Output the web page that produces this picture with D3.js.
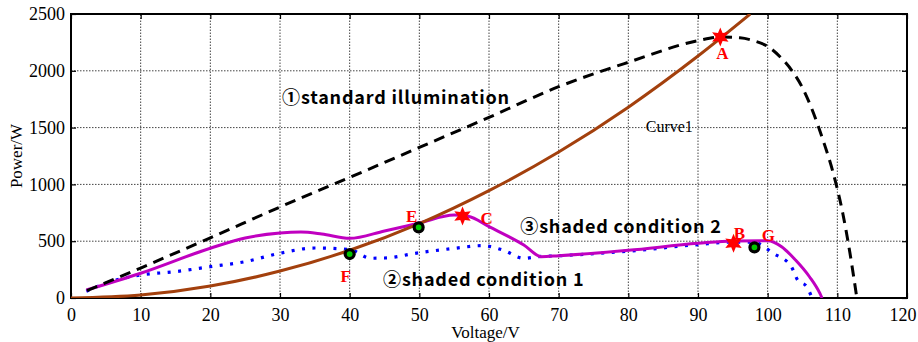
<!DOCTYPE html>
<meta charset="utf-8">
<script src="https://d3js.org/d3.v7.min.js"></script>
<style>
  body { margin: 0; background: #fff; }
</style>
<body>
<script>

// axis ticks
var xTicks = [0, 10, 20, 30, 40, 50, 60, 70, 80, 90, 100, 110, 120];
var yTicks = [0, 500, 1000, 1500, 2000, 2500];

// curve 1 (load line), [voltage, power]
var curve1 = [[0, 0], [10, 26], [20, 105], [30, 237], [40, 420], [50, 655], [60, 945],
  [70, 1285], [80, 1680], [90, 2130], [97.5, 2500]];

// 1 standard illumination
var standard = [[2.3, 65], [10, 264], [20, 530], [30, 801], [40, 1062], [50, 1325], [60, 1590],
  [70, 1860], [80, 2075], [90, 2265], [93.2, 2297], [96, 2290], [98, 2265], [100, 2215],
  [102, 2110], [103.5, 2000], [105, 1850], [106.5, 1640], [108, 1380], [109.5, 1080],
  [110.8, 740], [111.8, 400], [112.8, 0]];

// 2 shaded condition 1
var shaded1 = [[2.2, 60], [5, 130], [10, 202], [15, 232], [20, 276], [25, 320], [30, 394],
  [35, 440], [40, 427], [43, 350], [45, 352], [50, 399], [55, 437], [59, 461], [62, 422],
  [65, 349], [67, 364], [70, 372], [80, 412], [90, 470], [95, 492], [98, 490], [100.8, 393],
  [103.4, 276], [104.3, 158], [105.6, 100], [106.2, 26]];

// 3 shaded condition 2
var shaded2 = [[2.2, 70], [10, 218], [20, 438], [25, 528], [30, 572], [33, 580], [36, 563],
  [40, 525], [45, 590], [50, 660], [55, 730], [57, 720], [60, 628], [65, 466], [67.5, 364],
  [70, 372], [80, 420], [90, 481], [95, 502], [100, 504], [102, 452], [104, 334], [106, 187],
  [107.5, 40], [107.8, 0]];

// marked operating points
var stars = [{ name: "A", v: 93.2, p: 2297, dx: 2, dy: 22 },
  { name: "C", v: 56.2, p: 722, dx: 24, dy: 8 },
  { name: "B", v: 95.1, p: 481, dx: 6, dy: -4 }];
var dots = [{ name: "E", v: 49.9, p: 622, dx: -7, dy: -5 },
  { name: "F", v: 40, p: 387, dx: -4, dy: 28 },
  { name: "G", v: 98.1, p: 446, dx: 14, dy: -6 }];

var width = 918, height = 342;
var margin = { top: 14, right: 11, bottom: 44, left: 71 };

var svg = d3.select("body").append("svg")
  .attr("width", width)
  .attr("height", height);

var x = d3.scaleLinear().domain([0, 120]).range([margin.left, width - margin.right]);
var y = d3.scaleLinear().domain([0, 2500]).range([height - margin.bottom, margin.top]);

// grid
var grid = svg.append("g").attr("stroke", "#444").attr("stroke-width", 1)
  .attr("stroke-dasharray", "1.5,1.5");
grid.selectAll(".gx").data(xTicks.slice(1, -1)).enter().append("line")
  .attr("x1", function(d) { return x(d); }).attr("x2", function(d) { return x(d); })
  .attr("y1", y(0)).attr("y2", y(2500));
grid.selectAll(".gy").data(yTicks.slice(1, -1)).enter().append("line")
  .attr("y1", function(d) { return y(d); }).attr("y2", function(d) { return y(d); })
  .attr("x1", x(0)).attr("x2", x(120));

// axes with inward ticks
svg.append("g").attr("transform", "translate(0," + y(0) + ")")
  .call(d3.axisBottom(x).tickValues(xTicks).tickFormat(d3.format("d"))
    .tickSizeInner(-5).tickSizeOuter(0).tickPadding(10))
  .call(function(g) { g.select(".domain").remove(); })
  .call(function(g) {
    // keep the last label inside the window
    g.selectAll(".tick text").filter(function(d) { return d === 120; })
      .attr("text-anchor", "end").attr("dx", 9);
  });
svg.append("g").attr("transform", "translate(0," + y(2500) + ")")
  .call(d3.axisTop(x).tickValues(xTicks).tickSizeInner(-5).tickSizeOuter(0).tickFormat(""))
  .call(function(g) { g.select(".domain").remove(); });
svg.append("g").attr("transform", "translate(" + x(0) + ",0)")
  .call(d3.axisLeft(y).tickValues(yTicks).tickFormat(d3.format("d"))
    .tickSizeInner(-5).tickSizeOuter(0).tickPadding(6))
  .call(function(g) { g.select(".domain").remove(); });
svg.append("g").attr("transform", "translate(" + x(120) + ",0)")
  .call(d3.axisRight(y).tickValues(yTicks).tickSizeInner(-5).tickSizeOuter(0).tickFormat(""))
  .call(function(g) { g.select(".domain").remove(); });
svg.selectAll(".tick line").attr("stroke", "#000").attr("stroke-width", 1.2);
svg.selectAll(".tick text")
  .attr("font-family", "Liberation Serif, serif")
  .attr("font-size", 18).attr("fill", "#000");

svg.append("rect")
  .attr("x", x(0)).attr("y", y(2500))
  .attr("width", x(120) - x(0)).attr("height", y(0) - y(2500))
  .attr("fill", "none").attr("stroke", "#000").attr("stroke-width", 2);

// curves
var line = d3.line()
  .x(function(d) { return x(d[0]); })
  .y(function(d) { return y(d[1]); })
  .curve(d3.curveMonotoneX);

svg.append("clipPath").attr("id", "clip").append("rect")
  .attr("x", x(0)).attr("y", y(2500))
  .attr("width", x(120) - x(0)).attr("height", y(0) - y(2500));

var curves = svg.append("g").attr("clip-path", "url(#clip)").attr("fill", "none");
curves.append("path").datum(shaded1).attr("d", line)
  .attr("stroke", "#0000ff").attr("stroke-width", 3.2).attr("stroke-dasharray", "3,7.5");
curves.append("path").datum(shaded2).attr("d", line)
  .attr("stroke", "#c000c0").attr("stroke-width", 3);
curves.append("path").datum(standard).attr("d", line)
  .attr("stroke", "#000").attr("stroke-width", 3).attr("stroke-dasharray", "11,7");
curves.append("path").datum(curve1).attr("d", line)
  .attr("stroke", "#a3400d").attr("stroke-width", 3);

// six-point star
var starPts = [];
for (var i = 0; i < 12; i++) starPts.push([i * Math.PI / 6, i % 2 ? 4.6 : 9.5]);
var starPath = d3.lineRadial().curve(d3.curveLinearClosed)(starPts);

svg.selectAll(".star").data(stars).enter().append("path")
  .attr("d", starPath)
  .attr("transform", function(d) { return "translate(" + x(d.v) + "," + y(d.p) + ")"; })
  .attr("fill", "#ff0000");

svg.selectAll(".dot").data(dots).enter().append("circle")
  .attr("cx", function(d) { return x(d.v); })
  .attr("cy", function(d) { return y(d.p); })
  .attr("r", 4.5)
  .attr("fill", "#00c800").attr("stroke", "#000").attr("stroke-width", 3.2);

var labels = stars.concat(dots);
svg.selectAll(".lbl").data(labels).enter().append("text")
  .attr("x", function(d) { return x(d.v) + d.dx; })
  .attr("y", function(d) { return y(d.p) + d.dy; })
  .attr("text-anchor", "middle")
  .attr("font-family", "Liberation Serif, serif").attr("font-weight", "bold")
  .attr("font-size", 17).attr("fill", "#ff0000")
  .text(function(d) { return d.name; });

// annotations
var notes = [{ t: "①standard illumination", v: 30.3, p: 1710 },
  { t: "③shaded condition 2", v: 64.5, p: 570 },
  { t: "②shaded condition 1", v: 44.8, p: 105 }];
svg.selectAll(".note").data(notes).enter().append("text")
  .attr("x", function(d) { return x(d.v); })
  .attr("y", function(d) { return y(d.p); })
  .attr("font-family", "Noto Sans CJK JP, sans-serif").attr("font-weight", "bold")
  .attr("font-size", 18).attr("letter-spacing", 0.8).attr("fill", "#000")
  .text(function(d) { return d.t; });

svg.append("text")
  .attr("x", x(82.5)).attr("y", y(1465))
  .attr("font-family", "Liberation Serif, serif").attr("font-size", 16)
  .text("Curve1");

// axis titles
svg.append("text")
  .attr("x", x(59.5)).attr("y", 338)
  .attr("text-anchor", "middle")
  .attr("font-family", "Liberation Serif, serif").attr("font-size", 17)
  .text("Voltage/V");
svg.append("text")
  .attr("transform", "translate(22," + y(1250) + ") rotate(-90)")
  .attr("text-anchor", "middle")
  .attr("font-family", "Liberation Serif, serif").attr("font-size", 17)
  .text("Power/W");

</script>
</body>
